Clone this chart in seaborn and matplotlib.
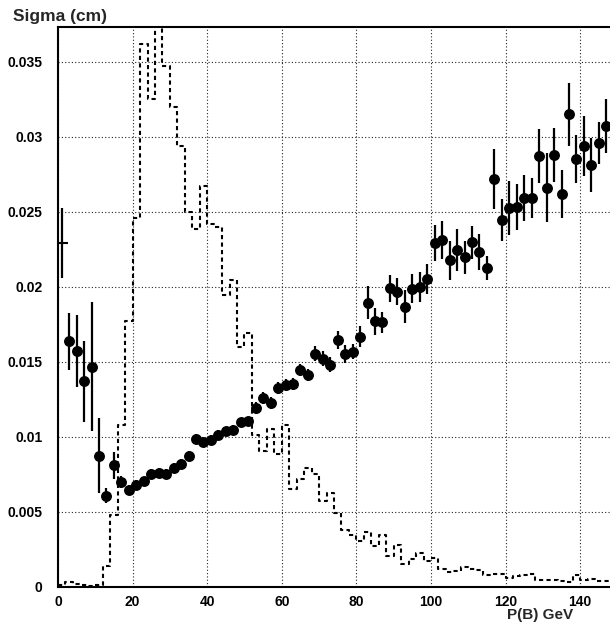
import numpy as np
import matplotlib
matplotlib.use("Agg")
import matplotlib.pyplot as plt
import seaborn as sns
from matplotlib.ticker import MultipleLocator

# resolution points (bin centres in GeV), sigma in cm, with errors
p_centers = np.arange(3, 149, 2)
sigma = [0.01637, 0.0157, 0.0137, 0.01467, 0.00875, 0.00609, 0.0081, 0.00698,
         0.00649, 0.00682, 0.00704, 0.00755, 0.0076, 0.00755, 0.00793, 0.00822,
         0.00875, 0.00987, 0.00964, 0.00982, 0.01015, 0.01037, 0.01049, 0.01097,
         0.01104, 0.01193, 0.0126, 0.01227, 0.01327, 0.01344, 0.01353, 0.01444,
         0.01409, 0.01555, 0.0152, 0.01482, 0.01644, 0.01549, 0.01567, 0.01667,
         0.01893, 0.0177, 0.01764, 0.01989, 0.01967, 0.01867, 0.01987, 0.0200,
         0.02049, 0.02293, 0.02311, 0.02175, 0.02244, 0.02195, 0.02297, 0.02229,
         0.02124, 0.0272, 0.02444, 0.02524, 0.02531, 0.02591, 0.02591, 0.02871,
         0.0266, 0.02875, 0.02617, 0.03149, 0.02849, 0.02937, 0.02809, 0.02957,
         0.03071]
sigma_err = [0.0019, 0.0024, 0.0027, 0.0043, 0.0025, 0.0005, 0.0009, 0.0004,
             0.0003, 0.0003, 0.0003, 0.0003, 0.0003, 0.0003, 0.0003, 0.0003,
             0.0003, 0.0003, 0.0003, 0.0003, 0.0003, 0.0003, 0.0003, 0.0003,
             0.0003, 0.0004, 0.0004, 0.0004, 0.0004, 0.0004, 0.0004, 0.0004,
             0.0004, 0.0005, 0.0005, 0.0005, 0.0006, 0.0006, 0.0005, 0.0007,
             0.0011, 0.0009, 0.0007, 0.0009, 0.0009, 0.0011, 0.00095, 0.001,
             0.001, 0.0012, 0.00125, 0.00127, 0.0014, 0.0011, 0.0011, 0.0012,
             0.0008, 0.002, 0.0014, 0.0018, 0.0015, 0.0015, 0.0013, 0.0018,
             0.0023, 0.0018, 0.0016, 0.0021, 0.0016, 0.002, 0.0018, 0.0014,
             0.0018]

# first bin: only the error bar is visible
first_x = 1
first_sigma = 0.0229
first_err = 0.00235

# momentum spectrum (dashed histogram, arbitrary scale), 2 GeV bins from 0
hist_edges = np.arange(0, 150, 2)
hist_vals = [0.00016, 0.0003, 0.0002, 0.0001, 0.00005, 0.0001,
             0.00137, 0.00482, 0.01077, 0.0177, 0.0246, 0.0362, 0.0325, 0.0385,
             0.0347, 0.03197, 0.02937, 0.02497, 0.02385, 0.0267, 0.02415, 0.0240,
             0.01944, 0.02044, 0.01597, 0.01693, 0.0101, 0.00904, 0.01053, 0.00887,
             0.01082, 0.0065, 0.00722, 0.0079, 0.00755, 0.0057, 0.00627, 0.00493,
             0.00382, 0.00349, 0.00304, 0.00364, 0.00271, 0.00349, 0.00209, 0.00282,
             0.00153, 0.00187, 0.00227, 0.00171, 0.0019, 0.00122, 0.001, 0.00109,
             0.00133, 0.00117, 0.00113, 0.00082, 0.00089, 0.00089, 0.00062, 0.00071,
             0.00082, 0.00084, 0.00049, 0.00044, 0.00049, 0.00037, 0.00033, 0.00082,
             0.00044, 0.0005, 0.00037, 0.0004]

sns.set_style("white")
plt.rcParams['font.family'] = ['Liberation Sans', 'DejaVu Sans']

fig = plt.figure(figsize=(6.1, 6.25), dpi=100)
ax = fig.add_axes([58 / 610, 38 / 625, 552 / 610, 560 / 625])

# step outline: repeat last height so the final bin is closed at its right edge
step_y = np.append(hist_vals, hist_vals[-1])
sns.lineplot(x=hist_edges, y=step_y, drawstyle="steps-post", estimator=None,
             color="black", linewidth=1.5, dashes=False, ax=ax, zorder=2)
ax.lines[-1].set_linestyle((0, (2.0, 1.6)))

ax.errorbar(p_centers, sigma, yerr=sigma_err, fmt="none", ecolor="black",
            elinewidth=1.6, capsize=0, zorder=3)
sns.scatterplot(x=p_centers, y=sigma, color="black", s=62, edgecolor="black",
                linewidth=0, ax=ax, zorder=4)
ax.errorbar([first_x], [first_sigma], yerr=[first_err], fmt="_", color="black",
            markersize=8, elinewidth=1.6, mew=1.5, capsize=0, zorder=3)

ax.set_xlim(0, 148)
ax.set_ylim(0, 0.0373)
ax.set_xlabel("")
ax.set_ylabel("")

ax.xaxis.set_major_locator(MultipleLocator(20))
ax.xaxis.set_minor_locator(MultipleLocator(5))
ax.yaxis.set_minor_locator(MultipleLocator(0.001))
ax.set_yticks([0, 0.005, 0.01, 0.015, 0.02, 0.025, 0.03, 0.035])
ax.set_yticklabels(["0", "0.005", "0.01", "0.015", "0.02", "0.025", "0.03", "0.035"])

ax.tick_params(axis="both", which="major", direction="in", length=9, width=1.2,
               labelsize=10, colors="black")
ax.tick_params(axis="both", which="minor", direction="in", length=5, width=1.0)
ax.tick_params(axis="x", which="major", pad=6)
ax.tick_params(axis="y", which="major", pad=11)
ax.tick_params(top=False, right=False, which="both")
for lbl in ax.get_xticklabels() + ax.get_yticklabels():
    lbl.set_fontweight("bold")

ax.grid(True, which="major", color="#222222", linestyle=(0, (1, 2)), linewidth=0.8)
for side in ["left", "bottom", "top"]:
    ax.spines[side].set_visible(True)
    ax.spines[side].set_color("black")
    ax.spines[side].set_linewidth(1.5)
ax.spines["right"].set_visible(False)

fig.text(13 / 610, 1 - 21 / 625, "Sigma (cm)", fontsize=12.5, fontweight="bold",
         ha="left", va="baseline")
fig.text(573 / 610, 1 - 619 / 625, "P(B) GeV", fontsize=11, fontweight="bold",
         ha="right", va="baseline")

fig.savefig("out.png", dpi=100)
